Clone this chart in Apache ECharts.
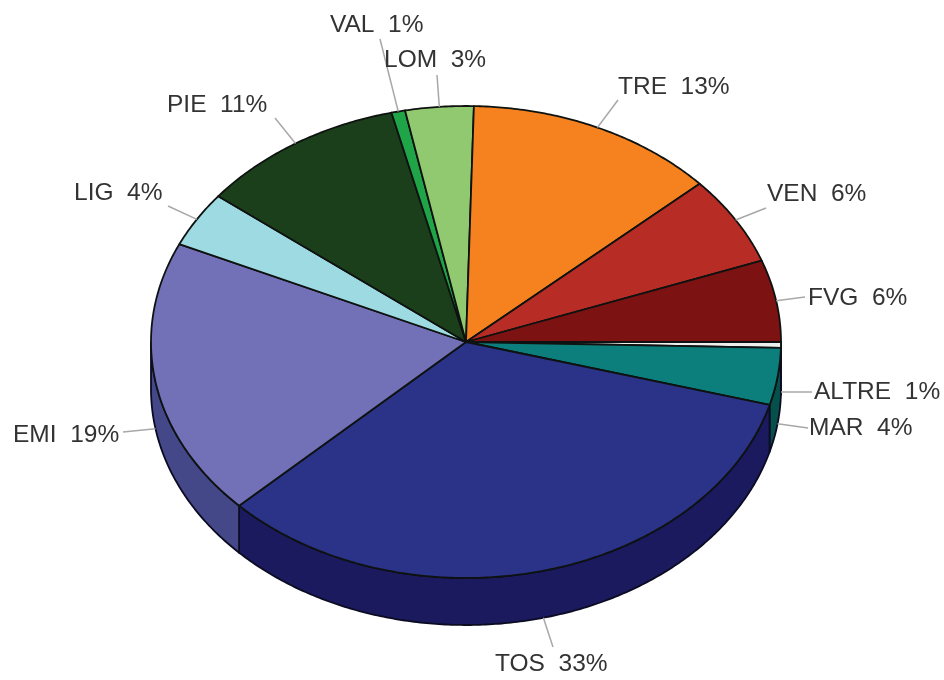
<!DOCTYPE html>
<html>
<head>
<meta charset="utf-8">
<style>html,body{margin:0;padding:0;background:#fff}#chart{width:944px;height:680px}</style>
<script src="https://cdn.jsdelivr.net/npm/echarts@6/dist/echarts.min.js"></script>
</head>
<body>
<div id="chart"></div>
<script>
// categories, clockwise from 3 o'clock
var regions = ['ALTRE', 'MAR', 'TOS', 'EMI', 'LIG', 'PIE', 'VAL', 'LOM', 'TRE', 'VEN', 'FVG'];
// slice sizes
var shares = [0.4, 3.9, 33.5, 19, 3.8, 10.6, 0.7, 3.5, 12.9, 6.1, 5.6];
// percentages as printed on the labels
var printed = [1, 4, 33, 19, 4, 11, 1, 3, 13, 6, 6];

var topColors = ['#efefef', '#0c7f7d', '#2a3388', '#7270b6', '#9edae2', '#1c3f1b', '#1fa548', '#90c96f', '#f5821f', '#b82c26', '#7c1212'];
var sideColors = ['#0a3a3a', '#06504c', '#1b1a5e', '#444889', '#6a9aa0', '#122a12', '#127030', '#608a4a', '#a85a14', '#7c1d1a', '#520c0c'];

// pie shape on the page
var cx = 466, cy = 342, rx = 315, ry = 236, depth = 47;
// where each leader line ends: [x, y], and where its text starts: [x, y]
var leaderEnds = [[812,392],[808,428],[553,647],[123,432],[168,206],[275,118],[380,39],[437,75],[618,100],[766,208],[805,297]];
var textStarts = [[814,392],[809,428],[495,664],[13,435],[74,193],[167,105],[330,25],[384,60],[618,87],[767,194],[808,298]];

var total = 0, i;
for (i = 0; i < shares.length; i++) total += shares[i];
var starts = [], running = 0;
for (i = 0; i < shares.length; i++) {
	starts.push(running / total * Math.PI * 2);
	running += shares[i];
}

function rim(t, drop) {
	return [cx + rx * Math.cos(t), cy + ry * Math.sin(t) + (drop || 0)];
}

function arcPoints(a, b, drop) {
	var pts = [], n = Math.max(2, Math.ceil((b - a) / 0.01));
	for (var k = 0; k <= n; k++) pts.push(rim(a + (b - a) * k / n, drop));
	return pts;
}

// side wall, only the front half of the rim shows
function renderSide(params, api) {
	var idx = params.dataIndex;
	var a = starts[idx];
	var b = a + api.value(0) / total * Math.PI * 2;
	if (a >= Math.PI) return null;
	b = Math.min(b, Math.PI);
	var pts = arcPoints(a, b, 0).concat(arcPoints(a, b, depth).reverse());
	return {
		type: 'polygon',
		shape: { points: pts },
		style: { fill: sideColors[idx], stroke: '#0b0b22', lineWidth: 1.8, lineJoin: 'round' }
	};
}

function renderTop(params, api) {
	var idx = params.dataIndex;
	var a = starts[idx];
	var b = a + api.value(0) / total * Math.PI * 2;
	return {
		type: 'polygon',
		shape: { points: [[cx, cy]].concat(arcPoints(a, b, 0)) },
		style: { fill: topColors[idx], stroke: '#0e1210', lineWidth: 1.8, lineJoin: 'round' }
	};
}

function renderLabel(params, api) {
	var idx = params.dataIndex;
	var mid = starts[idx] + api.value(0) / total * Math.PI;
	var from = rim(mid, Math.sin(mid) > 0 ? depth : 0);
	var end = leaderEnds[idx], pos = textStarts[idx];
	return {
		type: 'group',
		children: [{
			type: 'line',
			shape: { x1: from[0], y1: from[1], x2: end[0], y2: end[1] },
			style: { stroke: '#a8a8a8', lineWidth: 1.5 }
		}, {
			type: 'text',
			x: pos[0],
			y: pos[1],
			style: {
				text: regions[idx] + '  ' + printed[idx] + '%',
				fill: '#333333',
				font: '24.5px "Liberation Sans", Arial, sans-serif',
				align: 'left',
				verticalAlign: 'middle'
			}
		}]
	};
}

var chart = echarts.init(document.getElementById('chart'), null, { renderer: 'canvas' });
chart.setOption({
	backgroundColor: '#ffffff',
	animation: false,
	tooltip: { show: false },
	series: [
		{ type: 'custom', coordinateSystem: 'none', renderItem: renderSide, data: shares, silent: true, z: 1 },
		{ type: 'custom', coordinateSystem: 'none', renderItem: renderTop, data: shares, silent: true, z: 2 },
		{ type: 'custom', coordinateSystem: 'none', renderItem: renderLabel, data: shares, silent: true, z: 3 }
	]
});
</script>
</body>
</html>
